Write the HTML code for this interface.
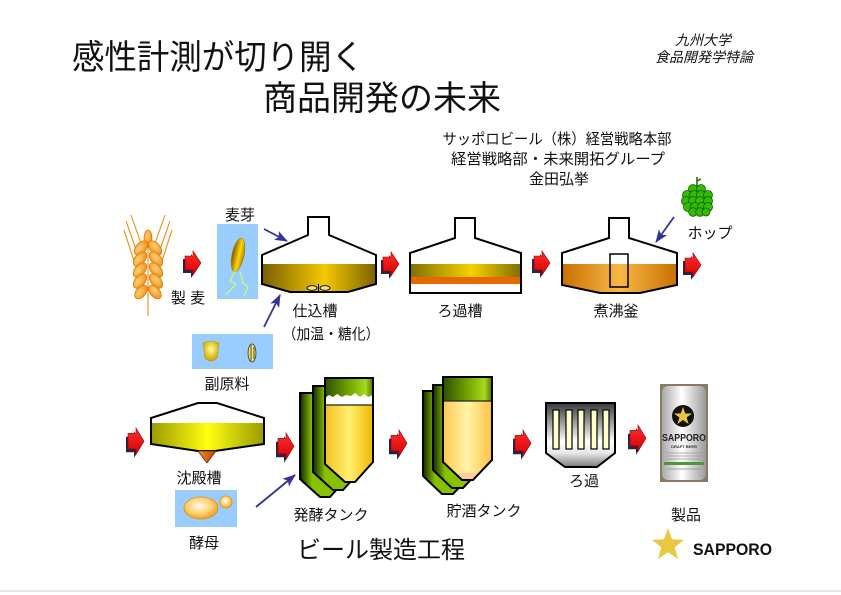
<!DOCTYPE html>
<html><head><meta charset="utf-8">
<style>
html,body{margin:0;padding:0;background:#fff;}
svg{display:block;}
text{font-family:"Liberation Sans","Noto Sans CJK JP",sans-serif;fill:#111;}
</style></head>
<body>
<svg width="841" height="595" viewBox="0 0 841 595" xmlns="http://www.w3.org/2000/svg">
<defs>
  <linearGradient id="redg" x1="0" y1="0" x2="0" y2="1">
    <stop offset="0" stop-color="#ff3030"/><stop offset="1" stop-color="#d80000"/>
  </linearGradient>
  <g id="ra">
    <polygon points="0,8 8,8 8,3 16,15 8,27 8,22 0,22" fill="#25254a"/>
    <polygon points="2,5 10,5 10,0 18,12 10,24 10,19 2,19" fill="url(#redg)" stroke="#900" stroke-width="0.6"/>
  </g>
  <marker id="bh" markerWidth="14" markerHeight="10" refX="12" refY="5" orient="auto" markerUnits="userSpaceOnUse">
    <path d="M0,0 L13,5 L0,10 L3,5 Z" fill="#33339a"/>
  </marker>
  <linearGradient id="liq1" x1="0" y1="0" x2="1" y2="0">
    <stop offset="0" stop-color="#786000"/><stop offset="0.55" stop-color="#f5c800"/><stop offset="1" stop-color="#7a6200"/>
  </linearGradient>
  <linearGradient id="gold2" x1="0" y1="0" x2="1" y2="0">
    <stop offset="0" stop-color="#7e7000"/><stop offset="0.55" stop-color="#f8d000"/><stop offset="1" stop-color="#7e7000"/>
  </linearGradient>
  <linearGradient id="or3" x1="0" y1="0" x2="1" y2="0">
    <stop offset="0" stop-color="#c87000"/><stop offset="0.5" stop-color="#f8b848"/><stop offset="1" stop-color="#c87000"/>
  </linearGradient>
  <linearGradient id="yel4" x1="0" y1="0" x2="1" y2="0">
    <stop offset="0" stop-color="#9a9a00"/><stop offset="0.5" stop-color="#ffff10"/><stop offset="1" stop-color="#9a9a00"/>
  </linearGradient>
  <linearGradient id="cone4" x1="0" y1="0" x2="1" y2="0">
    <stop offset="0" stop-color="#ff9030"/><stop offset="1" stop-color="#b04000"/>
  </linearGradient>
  <linearGradient id="back" x1="0" y1="0" x2="1" y2="0">
    <stop offset="0" stop-color="#142800"/><stop offset="0.25" stop-color="#86c000"/><stop offset="1" stop-color="#8cc400"/>
  </linearGradient>
  <linearGradient id="band" x1="0" y1="0" x2="1" y2="0">
    <stop offset="0" stop-color="#2a5000"/><stop offset="0.55" stop-color="#7aac00"/><stop offset="0.85" stop-color="#a8d820"/><stop offset="1" stop-color="#4e7400"/>
  </linearGradient>
  <linearGradient id="beer" x1="0" y1="0" x2="1" y2="0">
    <stop offset="0" stop-color="#f2c020"/><stop offset="0.5" stop-color="#fff070"/><stop offset="1" stop-color="#f0b800"/>
  </linearGradient>
  <linearGradient id="cream" x1="0" y1="0" x2="1" y2="0">
    <stop offset="0" stop-color="#ffc850"/><stop offset="0.5" stop-color="#fff4a8"/><stop offset="1" stop-color="#ffc040"/>
  </linearGradient>
  <linearGradient id="filt" x1="0" y1="0" x2="0" y2="1">
    <stop offset="0" stop-color="#383838"/><stop offset="0.6" stop-color="#ffffff"/><stop offset="0.78" stop-color="#e8e8e8"/><stop offset="1" stop-color="#7a7a7a"/>
  </linearGradient>
  <radialGradient id="kern" cx="0.4" cy="0.4" r="0.7">
    <stop offset="0" stop-color="#ffd27a"/><stop offset="1" stop-color="#ee8a10"/>
  </radialGradient>
  <linearGradient id="malt" x1="0" y1="0" x2="1" y2="0">
    <stop offset="0" stop-color="#7a5a00"/><stop offset="0.6" stop-color="#ffd800"/><stop offset="1" stop-color="#b08800"/>
  </linearGradient>
  <radialGradient id="corn" cx="0.5" cy="0.4" r="0.6">
    <stop offset="0" stop-color="#ffff90"/><stop offset="1" stop-color="#d0a000"/>
  </radialGradient>
  <radialGradient id="yeast" cx="0.45" cy="0.4" r="0.6">
    <stop offset="0" stop-color="#fffbe8"/><stop offset="0.6" stop-color="#ffd070"/><stop offset="1" stop-color="#f0a020"/>
  </radialGradient>
  <linearGradient id="can" x1="0" y1="0" x2="1" y2="0">
    <stop offset="0" stop-color="#a8a8a8"/><stop offset="0.45" stop-color="#ffffff"/><stop offset="1" stop-color="#9a9a9a"/>
  </linearGradient>
  <clipPath id="c1"><polygon points="262,255 376,255 376,284 348,292 290,292 262,284"/></clipPath>
  <clipPath id="c2"><polygon points="410,253 521,253 521,293 410,293"/></clipPath>
  <clipPath id="c3"><polygon points="562,253 677,253 677,285 640,293 600,293 562,285"/></clipPath>
  <clipPath id="c4"><polygon points="151,418 264,418 264,444 215,451 198,451 151,444"/></clipPath>
  <clipPath id="cf"><polygon points="325,378 373,378 373,462 355,482 345,482 325,464"/></clipPath>
  <clipPath id="cs"><polygon points="443,377 492,377 492,460 473,480 462,480 443,462"/></clipPath>
</defs>

<!-- Title -->
<text x="72" y="69" font-size="34" textLength="292" lengthAdjust="spacingAndGlyphs">感性計測が切り開く</text>
<text x="263" y="110" font-size="34" textLength="238" lengthAdjust="spacingAndGlyphs">商品開発の未来</text>
<text x="703" y="45" font-size="14" font-style="italic" text-anchor="middle">九州大学</text>
<text x="704" y="62" font-size="14" font-style="italic" text-anchor="middle" textLength="98" lengthAdjust="spacingAndGlyphs">食品開発学特論</text>

<text x="557" y="144" font-size="15" text-anchor="middle" textLength="229" lengthAdjust="spacingAndGlyphs">サッポロビール（株）経営戦略本部</text>
<text x="558" y="164" font-size="15" text-anchor="middle" textLength="214" lengthAdjust="spacingAndGlyphs">経営戦略部・未来開拓グループ</text>
<text x="559" y="184" font-size="15" text-anchor="middle">金田弘挙</text>

<!-- Wheat -->
<g stroke="#f08a10" stroke-width="1.1" fill="none">
  <path d="M148,316 L148,236"/>
  <path d="M142,246 L131,215 M139,258 L126,221 M137,270 L124,230"/>
  <path d="M154,246 L165,215 M157,258 L170,221 M159,270 L172,230"/>
</g>
<g fill="url(#kern)" stroke="#e07a00" stroke-width="0.8">
  <ellipse cx="148" cy="238" rx="4" ry="8"/>
  <ellipse cx="141" cy="248" rx="8.5" ry="5" transform="rotate(-50 141 248)"/>
  <ellipse cx="155" cy="248" rx="8.5" ry="5" transform="rotate(50 155 248)"/>
  <ellipse cx="140" cy="259" rx="8.5" ry="5" transform="rotate(-50 140 259)"/>
  <ellipse cx="156" cy="259" rx="8.5" ry="5" transform="rotate(50 156 259)"/>
  <ellipse cx="140" cy="270" rx="8.5" ry="5" transform="rotate(-50 140 270)"/>
  <ellipse cx="156" cy="270" rx="8.5" ry="5" transform="rotate(50 156 270)"/>
  <ellipse cx="140" cy="281" rx="8.5" ry="5" transform="rotate(-50 140 281)"/>
  <ellipse cx="156" cy="281" rx="8.5" ry="5" transform="rotate(50 156 281)"/>
  <ellipse cx="141" cy="292" rx="8" ry="4.8" transform="rotate(-50 141 292)"/>
  <ellipse cx="155" cy="292" rx="8" ry="4.8" transform="rotate(50 155 292)"/>
</g>
<text x="188" y="303" font-size="15" text-anchor="middle">製 麦</text>

<!-- Malt -->
<text x="240" y="220" font-size="15" text-anchor="middle">麦芽</text>
<rect x="217" y="224" width="41" height="75" fill="#99ccff"/>
<ellipse cx="238" cy="255" rx="6" ry="17" fill="url(#malt)" stroke="#a07800" stroke-width="0.6" transform="rotate(12 238 255)"/>
<path d="M235,271 L230,281 L236,284 L226,295 M240,272 L243,283 L248,287 L244,296" stroke="#ccff66" stroke-width="1.2" fill="none"/>

<!-- Adjuncts -->
<rect x="192" y="334" width="81" height="35" fill="#99ccff"/>
<path d="M203,343 Q211,340 219,343 L217,358 Q211,364 205,358 Z" fill="url(#corn)" stroke="#c09000" stroke-width="0.6"/>
<ellipse cx="252" cy="353" rx="4" ry="9" fill="#f0e070" stroke="#333" stroke-width="0.8"/>
<path d="M251,345 L251,361 M254,347 L254,359" stroke="#333" stroke-width="0.8"/>
<text x="227" y="389" font-size="15" text-anchor="middle">副原料</text>

<!-- Tank 1 仕込槽 -->
<rect x="262" y="264" width="114" height="30" fill="url(#liq1)" clip-path="url(#c1)"/>
<path d="M308,217 H329 V235 L376,255 V284 L348,292 H290 L262,284 V255 L308,235 Z" fill="none" stroke="#000" stroke-width="2"/>
<ellipse cx="312" cy="288" rx="5" ry="2.3" fill="#f0e0a0" stroke="#000" stroke-width="0.9"/>
<ellipse cx="325" cy="288" rx="5" ry="2.3" fill="#f0e0a0" stroke="#000" stroke-width="0.9"/>
<path d="M318.5,284 V292" stroke="#000" stroke-width="1"/>
<text x="315" y="316" font-size="15" text-anchor="middle">仕込槽</text>
<text x="331" y="339" font-size="15" text-anchor="middle" textLength="97" lengthAdjust="spacingAndGlyphs">（加温・糖化）</text>

<!-- Tank 2 ろ過槽 -->
<g clip-path="url(#c2)">
  <rect x="410" y="264" width="111" height="13" fill="url(#gold2)"/>
  <rect x="410" y="277" width="111" height="7" fill="#e86800"/>
</g>
<path d="M455,218 H475 V238 L521,253 V293 H410 V253 L455,238 Z" fill="none" stroke="#000" stroke-width="2"/>
<text x="460" y="316" font-size="15" text-anchor="middle">ろ過槽</text>

<!-- Tank 3 煮沸釜 -->
<rect x="562" y="264" width="115" height="30" fill="url(#or3)" clip-path="url(#c3)"/>
<path d="M609,218 H629 V238 L677,253 V285 L640,293 H600 L562,285 V253 L609,238 Z" fill="none" stroke="#000" stroke-width="2"/>
<rect x="610" y="254" width="18" height="33" fill="none" stroke="#000" stroke-width="1.5"/>
<text x="616" y="316" font-size="15" text-anchor="middle">煮沸釜</text>

<!-- Hop -->
<path d="M697,177 L697,187 M697,181 L701,179" stroke="#116600" stroke-width="1.5" fill="none"/>
<g fill="#33bb00" stroke="#0f5a00" stroke-width="0.8">
  <circle cx="693" cy="189" r="4.5"/><circle cx="701" cy="189" r="4.5"/>
  <circle cx="687" cy="195" r="4.5"/><circle cx="694" cy="195" r="4.5"/><circle cx="701" cy="195" r="4.5"/><circle cx="708" cy="195" r="4.5"/>
  <circle cx="686" cy="201" r="4.5"/><circle cx="693" cy="201" r="4.5"/><circle cx="700" cy="201" r="4.5"/><circle cx="708" cy="201" r="4.5"/>
  <circle cx="688" cy="207" r="4.5"/><circle cx="695" cy="207" r="4.5"/><circle cx="702" cy="207" r="4.5"/><circle cx="708" cy="207" r="4.5"/>
  <circle cx="693" cy="212" r="4.3"/><circle cx="700" cy="212" r="4.3"/><circle cx="706" cy="212" r="4"/>
</g>
<text x="710" y="238" font-size="15" text-anchor="middle">ホップ</text>

<!-- Blue arrows -->
<g stroke="#33339a" stroke-width="1.8" fill="none" marker-end="url(#bh)">
  <path d="M264,229 L287,241"/>
  <path d="M264,327 L280,295"/>
  <path d="M674,217 L656,242"/>
  <path d="M256,507 L295,475"/>
</g>

<!-- Red arrows -->
<use href="#ra" x="183" y="251"/>
<use href="#ra" x="381" y="252"/>
<use href="#ra" x="532" y="251"/>
<use href="#ra" x="683" y="253"/>
<g transform="translate(126,428) scale(1,1.1)"><use href="#ra"/></g>
<g transform="translate(276,433) scale(1,1.1)"><use href="#ra"/></g>
<g transform="translate(389,430) scale(1,1.1)"><use href="#ra"/></g>
<g transform="translate(513,430) scale(1,1.1)"><use href="#ra"/></g>
<g transform="translate(628,425) scale(1,1.1)"><use href="#ra"/></g>

<!-- Settling tank 沈殿槽 -->
<rect x="151" y="423" width="113" height="30" fill="url(#yel4)" clip-path="url(#c4)"/>
<path d="M198,403 H217 L264,418 V444 L215,451 H198 L151,444 V418 Z" fill="none" stroke="#000" stroke-width="2"/>
<polygon points="198,451 216,451 207,463" fill="url(#cone4)" stroke="#6a2a00" stroke-width="0.8"/>
<text x="199" y="483" font-size="15" text-anchor="middle">沈殿槽</text>

<!-- Yeast -->
<rect x="175" y="490" width="62" height="37" fill="#99ccff"/>
<ellipse cx="201" cy="508" rx="17" ry="11" fill="url(#yeast)" stroke="#e09000" stroke-width="0.8"/>
<circle cx="226" cy="502" r="6" fill="url(#yeast)" stroke="#e09000" stroke-width="0.8"/>
<text x="204" y="548" font-size="15" text-anchor="middle">酵母</text>

<!-- Fermentation tanks -->
<polygon points="300,393 348,393 348,477 330,497 320,497 300,479" fill="url(#back)" stroke="#000" stroke-width="2"/>
<polygon points="313,386 361,386 361,470 343,490 333,490 313,472" fill="url(#back)" stroke="#000" stroke-width="2"/>
<g clip-path="url(#cf)">
  <rect x="325" y="378" width="48" height="26" fill="url(#band)"/>
  <path d="M325,398 L329,395 L333,397 L337,394 L342,397 L346,395 L351,396 L355,393 L360,397 L364,394 L368,397 L373,395 V405 H325 Z" fill="#fff"/>
  <rect x="325" y="405" width="48" height="80" fill="url(#beer)"/>
  <path d="M325,405 H373" stroke="#222" stroke-width="1.2"/>
</g>
<polygon points="325,378 373,378 373,462 355,482 345,482 325,464" fill="none" stroke="#000" stroke-width="2"/>
<text x="331" y="520" font-size="15" text-anchor="middle">発酵タンク</text>

<!-- Storage tanks -->
<polygon points="423,391 472,391 472,474 453,494 442,494 423,476" fill="url(#back)" stroke="#000" stroke-width="2"/>
<polygon points="433,385 482,385 482,468 463,488 452,488 433,470" fill="url(#back)" stroke="#000" stroke-width="2"/>
<g clip-path="url(#cs)">
  <rect x="443" y="377" width="49" height="24" fill="url(#band)"/>
  <rect x="443" y="401" width="49" height="82" fill="url(#cream)"/>
  <rect x="443" y="473" width="49" height="10" fill="#ffcc99"/>
  <path d="M443,401 H492" stroke="#222" stroke-width="1.2"/>
</g>
<polygon points="443,377 492,377 492,460 473,480 462,480 443,462" fill="none" stroke="#000" stroke-width="2"/>
<text x="484" y="516" font-size="15" text-anchor="middle">貯酒タンク</text>

<!-- Filter -->
<path d="M546,403 H615 V453 L597,467 H565 L546,453 Z" fill="url(#filt)" stroke="#000" stroke-width="2"/>
<g fill="#ffffcc" stroke="#000" stroke-width="1.2">
  <rect x="553" y="410" width="6" height="39"/>
  <rect x="566" y="410" width="6" height="39"/>
  <rect x="578" y="410" width="6" height="39"/>
  <rect x="591" y="410" width="6" height="39"/>
  <rect x="603" y="410" width="6" height="39"/>
</g>
<text x="584" y="486" font-size="15" text-anchor="middle">ろ過</text>

<!-- Product can -->
<rect x="660" y="384" width="48" height="98" fill="#8a7a60"/>
<rect x="662" y="386" width="44" height="94" rx="6" fill="url(#can)"/>
<circle cx="683" cy="416" r="11" fill="#111"/>
<polygon points="683,407 685.3,413.5 692,413.5 686.6,417.5 688.6,424 683,420 677.4,424 679.4,417.5 674,413.5 680.7,413.5" fill="#e8c840"/>
<text x="684" y="441" font-size="10.5" font-weight="bold" text-anchor="middle" textLength="44" lengthAdjust="spacingAndGlyphs" style="fill:#222">SAPPORO</text>
<text x="684" y="448" font-size="4" font-weight="bold" text-anchor="middle" style="fill:#333">DRAFT BEER</text>
<g stroke="#999" stroke-width="0.8">
  <path d="M666,453 H702 M666,456 H702 M666,459 H700"/>
</g>
<rect x="664" y="462" width="40" height="3" fill="#4a9a3a"/>
<path d="M668,469 H700" stroke="#888" stroke-width="0.8"/>
<text x="686" y="520" font-size="15" text-anchor="middle">製品</text>

<!-- Caption -->
<text x="381" y="558" font-size="24" text-anchor="middle" textLength="168" lengthAdjust="spacingAndGlyphs">ビール製造工程</text>

<!-- Sapporo logo -->
<polygon points="668,528 672.1,539.4 684.2,539.8 674.7,547.3 678,559 668,552.2 658,559 661.3,547.3 651.8,539.8 663.9,539.4" fill="#e8c840"/>
<text x="693" y="555" font-size="17" font-weight="bold" textLength="79" lengthAdjust="spacingAndGlyphs">SAPPORO</text>

<line x1="0" y1="591" x2="841" y2="591" stroke="#c8c8c8" stroke-width="1"/>
</svg>
</body></html>
